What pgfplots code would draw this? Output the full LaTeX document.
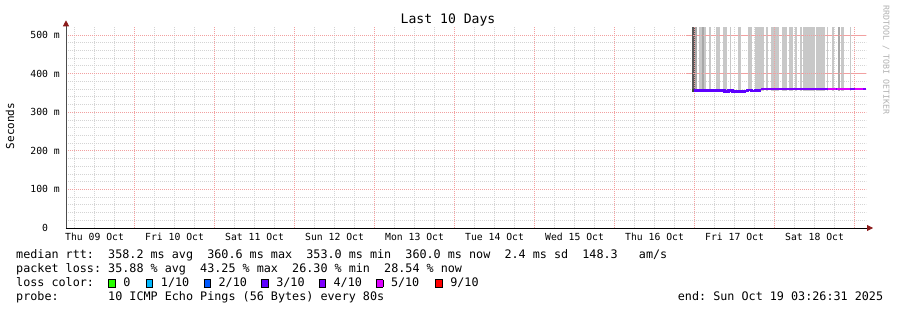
\documentclass[border=0pt]{standalone}
\usepackage{fontspec}
\setmainfont{DejaVu Sans Mono}[WordSpace={1,0,0}]
\usepackage{pgfplots}
\pgfplotsset{compat=1.18}
\usetikzlibrary{arrows.meta}
\definecolor{smoke}{HTML}{C8C8C8}
\definecolor{smokemid}{HTML}{A8A8A8}
\definecolor{smokedark}{HTML}{5A5A5A}
\definecolor{redgrid}{HTML}{F2A0A0}
\definecolor{graygrid}{HTML}{D4D4D4}
\definecolor{arrowred}{HTML}{8B1A1A}
\definecolor{loss0}{HTML}{26FF00}
\definecolor{loss1}{HTML}{00B8FF}
\definecolor{loss2}{HTML}{0059FF}
\definecolor{loss3}{HTML}{5E00FF}
\definecolor{loss4}{HTML}{7E00FF}
\definecolor{loss5}{HTML}{DD00FF}
\definecolor{loss9}{HTML}{FF0000}
\newcommand\smoke[3][smoke]{\addplot[fill=#1,draw=none,forget plot] coordinates {(#2,354) (#2,540) (#3,540) (#3,354)};}
\newcommand\lbox[1]{{\fboxsep=0pt\fboxrule=0.8bp\fcolorbox{black}{#1}{\rule{0pt}{6.6bp}\hspace{5.8bp}}}}
\tikzset{redgridline/.style={redgrid, line width=0.8bp, dash pattern=on 1bp off 1bp}}
\frenchspacing
\begin{document}
\begin{tikzpicture}[x=1bp,y=1bp]
\path[use as bounding box,fill=white] (-66,-82) rectangle (831,228);
\begin{axis}[
  at={(0,0)}, anchor=south west, scale only axis,
  width=800bp, height=200.72bp,
  xmin=0.1434, xmax=10.1434, ymin=0, ymax=520,
  axis x line=bottom, axis y line=left,
  x axis line style={black, line width=0.8bp, shorten >=-7bp, -{Triangle[length=6bp,width=6bp,color=arrowred]}},
  y axis line style={black!70, line width=0.8bp, shorten >=-7bp, -{Triangle[length=6bp,width=6bp,color=arrowred]}},
  xtick={0.5,1.5,2.5,3.5,4.5,5.5,6.5,7.5,8.5,9.5},
  xticklabels={Thu 09 Oct,Fri 10 Oct,Sat 11 Oct,Sun 12 Oct,Mon 13 Oct,Tue 14 Oct,Wed 15 Oct,Thu 16 Oct,Fri 17 Oct,Sat 18 Oct},
  extra x ticks={1,2,3,4,5,6,7,8,9,10},
  extra x tick labels={},
  extra x tick style={xmajorgrids=true, major tick length=0pt},
  minor xtick={0.25,0.5,0.75,1.25,1.5,1.75,2.25,2.5,2.75,3.25,3.5,3.75,4.25,4.5,4.75,5.25,5.5,5.75,6.25,6.5,6.75,7.25,7.5,7.75,8.25,8.5,8.75,9.25,9.5,9.75,10.25},
  xminorgrids=true, xmajorgrids=false,
  ytick={0,100,200,300,400,500},
  yticklabels={0\hphantom{00},100 m,200 m,300 m,400 m,500 m},
  minor ytick={20,40,60,80,120,140,160,180,220,240,260,280,320,340,360,380,420,440,460,480},
  ymajorgrids=true, yminorgrids=true,
  major grid style={redgridline},
  minor grid style={graygrid, line width=0.8bp, dash pattern=on 1bp off 1bp},
  major tick length=0pt, minor tick length=0pt,
  tick label style={font=\fontsize{9.8}{10}\selectfont, inner sep=0pt},
  xticklabel style={anchor=north, yshift=-5bp},
  yticklabel style={anchor=east, xshift=-6bp},
]
% smoke (ping distribution)
\smoke[smokedark]{7.9715}{8.0}
\smoke[smokemid]{8.0}{8.03}
\smoke{8.05}{8.0875}
\smoke[smokemid]{8.0875}{8.1125}
\smoke{8.1125}{8.1375}
\smoke{8.175}{8.2}
\smoke{8.2625}{8.3125}
\smoke{8.35}{8.4}
\smoke{8.4375}{8.45}
\smoke{8.5375}{8.575}
\smoke{8.6625}{8.7125}
\smoke{8.75}{8.8625}
\smoke{8.8875}{8.9125}
\smoke{8.95}{9.05}
\smoke{9.0875}{9.15}
\smoke{9.175}{9.225}
\smoke{9.25}{9.275}
\smoke{9.3125}{9.3375}
\smoke{9.35}{9.5}
\smoke{9.5125}{9.625}
\smoke{9.65}{9.6625}
\smoke{9.7125}{9.7375}
\smoke[smokemid]{9.7875}{9.8125}
\smoke{9.825}{9.8625}
\smoke{9.9375}{9.95}
% red major grid redrawn above the smoke
\draw[redgridline] (axis cs:8,0) -- (axis cs:8,520);
\draw[redgridline] (axis cs:9,0) -- (axis cs:9,520);
\draw[redgridline] (axis cs:10,0) -- (axis cs:10,520);
\draw[redgridline] (axis cs:7.9,400) -- (axis cs:10.1434,400);
\draw[redgridline] (axis cs:7.9,500) -- (axis cs:10.1434,500);
% median rtt
\addplot[const plot, loss3, line width=2.3bp] coordinates {
(7.975,356.5) (8.375,354) (8.425,356) (8.475,353.5) (8.625,355.5) (8.6625,357) (8.7125,355) (8.7625,356) (8.825,356)};
\addplot[const plot, loss4, line width=2.3bp] coordinates {
(8.825,360) (10.1434,360)};
\addplot[loss5, line width=2.3bp] coordinates {(9.6625,360) (9.7625,360)};
\addplot[loss5, line width=2.3bp] coordinates {(9.775,360) (9.9375,360)};
\addplot[loss5, line width=2.3bp] coordinates {(10.0,360) (10.1,360)};
\addplot[black!75, line width=2.3bp] coordinates {(7.972,356.5) (7.995,356.5)};
\end{axis}
\node[anchor=base, inner sep=0pt, font=\fontsize{13.15}{14}\selectfont] at (382,204.5) {Last 10 Days};
\node[rotate=90, inner sep=0pt, font=\fontsize{11}{12}\selectfont] at (-56,102) {Seconds};
\node[rotate=-90, anchor=west, inner sep=0pt, text=black!30, font=\fontsize{8.3}{9}\selectfont] at (820,223) {RRDTOOL / TOBI OETIKER};
\begin{scope}[every node/.style={anchor=base west, inner sep=0pt, font=\fontsize{11.8}{12}\selectfont}]
\node at (-50,-30.5) {median rtt:~~358.2 ms avg~~360.6 ms max~~353.0 ms min~~360.0 ms now~~2.4 ms sd~~148.3~~~am/s};
\node at (-50,-44.5) {packet loss: 35.88 \% avg~~43.25 \% max~~26.30 \% min~~28.54 \% now};
\node at (-50,-58.5) {loss color:};
\node at (42,-58.5) {\lbox{loss0}\hspace{7.7bp}0};
\node at (79.7,-58.5) {\lbox{loss1}\hspace{7.7bp}1/10};
\node at (137.3,-58.5) {\lbox{loss2}\hspace{7.7bp}2/10};
\node at (195,-58.5) {\lbox{loss3}\hspace{7.7bp}3/10};
\node at (252.3,-58.5) {\lbox{loss4}\hspace{7.7bp}4/10};
\node at (309.7,-58.5) {\lbox{loss5}\hspace{7.7bp}5/10};
\node at (369,-58.5) {\lbox{loss9}\hspace{7.7bp}9/10};
\node at (-50,-72.5) {probe:~~~~~~~10 ICMP Echo Pings (56 Bytes) every 80s};
\node at (611.7,-72.5) {end: Sun Oct 19 03:26:31 2025};
\end{scope}
\end{tikzpicture}
\end{document}
